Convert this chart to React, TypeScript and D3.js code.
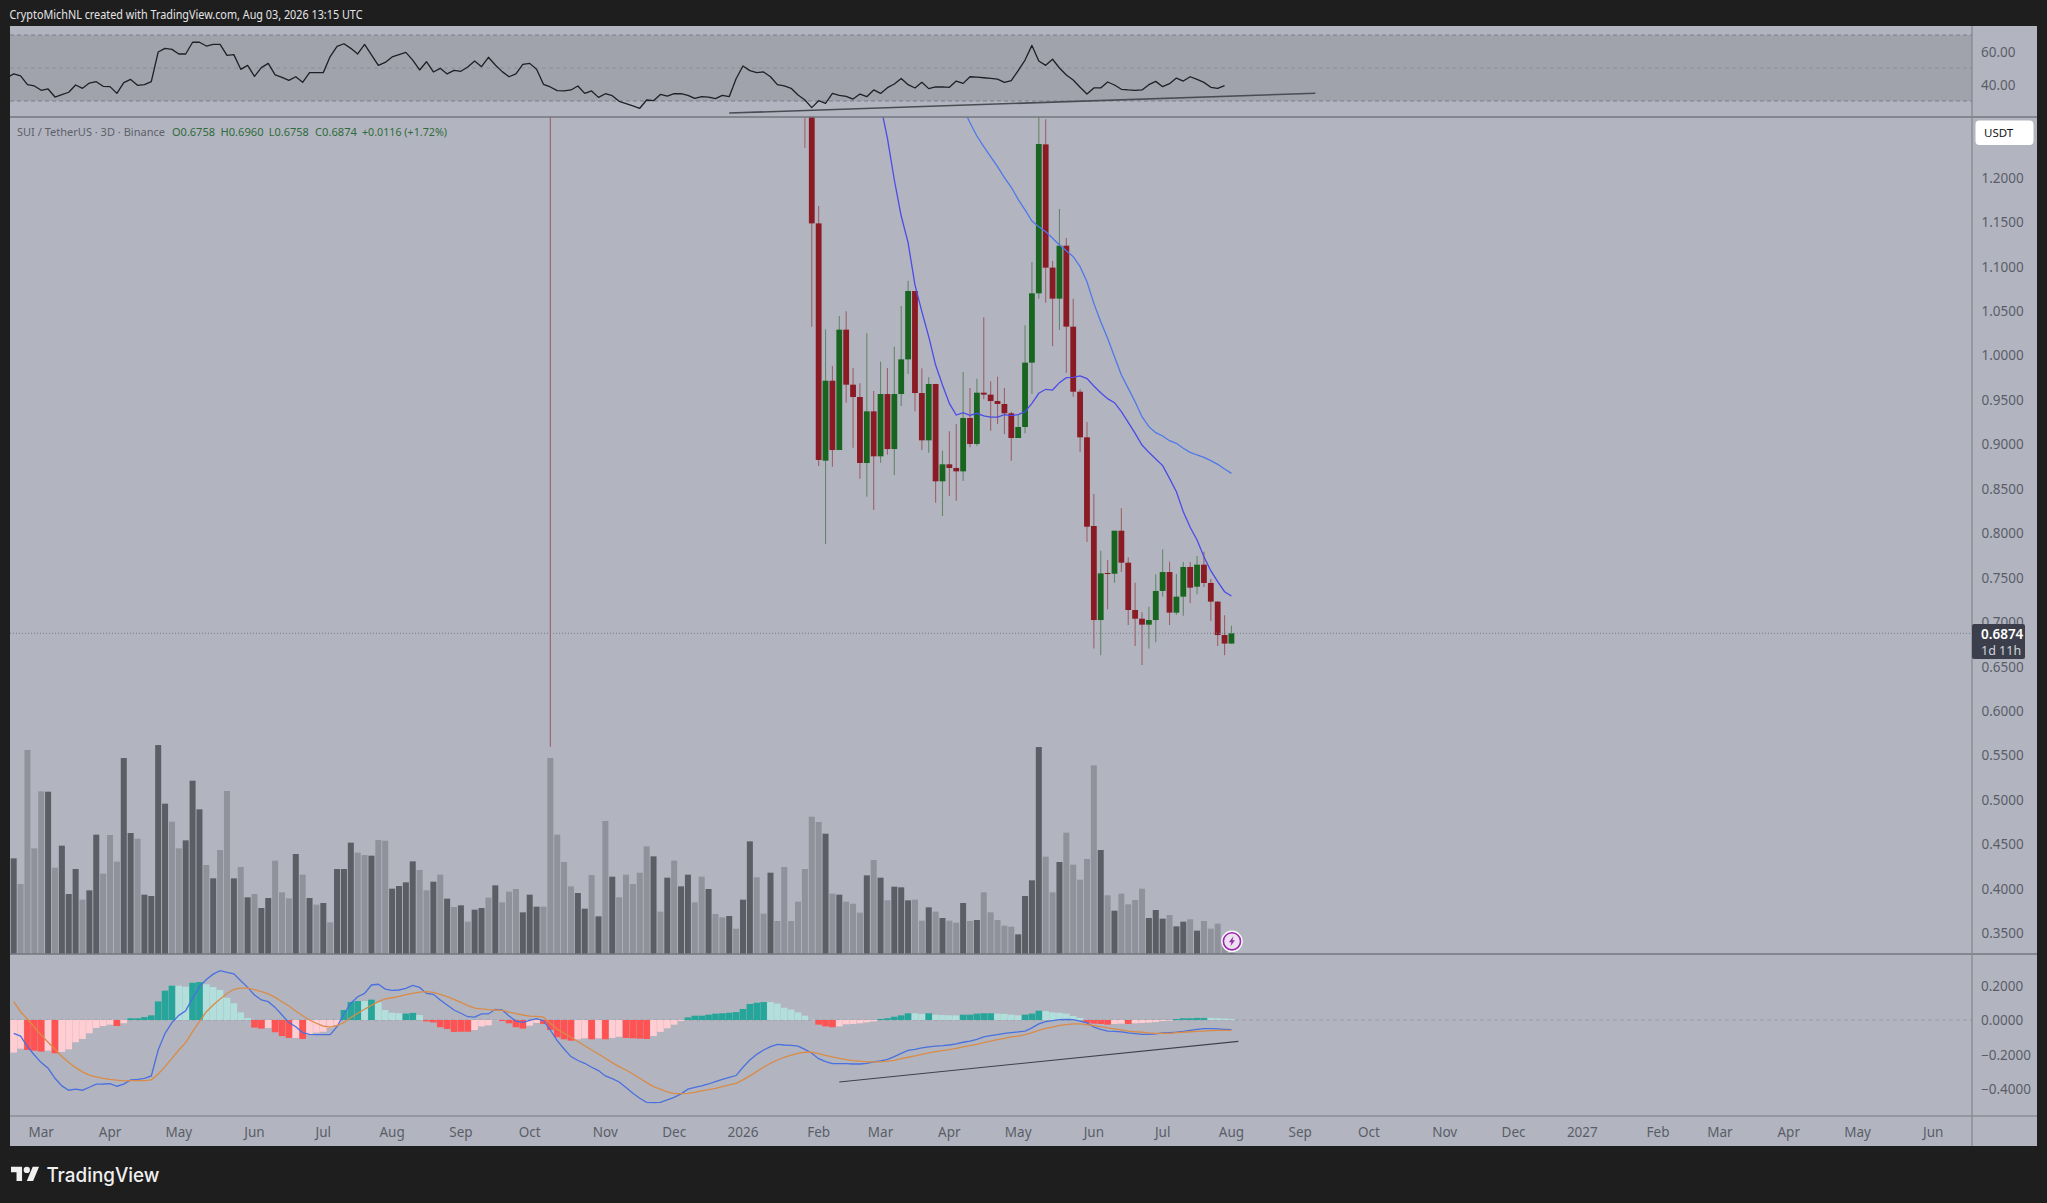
import React from "react";
import * as d3 from "d3";

const firstCandle = 115;
const opens = [1.40,1.30,1.1486,.8816,.9716,.8936,1.029,.9671,.9532,.879,.9371,.8865,.9566,.8947,.9566,.9956,1.0725,.9577,.9045,.9679,.8584,.8775,.8734,.8696,.9296,.9004,.9581,.9559,.9487,.9454,.9349,.9071,.9195,.9919,1.0699,1.2375,1.0988,1.0639,1.1235,1.0324,.9592,.9079,.8081,.7023,.7552,.7544,.8028,.7668,.7136,.7038,.6971,.7023,.735,.7563,.7106,.7286,.762,.7398,.7646,.744,.723,.6854,.6758];
const closes = [1.30,1.1486,.8824,.9716,.8936,1.029,.9671,.9532,.879,.9371,.8865,.9566,.8947,.9566,.9956,1.0725,.9577,.9045,.9679,.8584,.8775,.8734,.8696,.9296,.9004,.9581,.9559,.9487,.9454,.9349,.9071,.9195,.9919,1.0699,1.2379,1.0988,1.0639,1.1235,1.0324,.9592,.9079,.8073,.7023,.7548,.7544,.8028,.7668,.7136,.7038,.6971,.7023,.735,.7563,.7106,.7286,.762,.7387,.7646,.744,.723,.6854,.6758,.6874];
const highs = [1.45,1.34,1.1682,1.0294,.9881,1.0444,1.0496,.9859,.9686,1.0249,.96,.993,.9859,1.0099,1.0556,1.0841,1.0725,.9855,.9754,.9679,.8929,.9146,.9229,.9814,.9634,.9739,1.0429,.9709,.9761,.9634,.9367,.9326,1.0339,1.1051,1.29,1.2657,1.1066,1.1648,1.1322,1.0639,.9619,.9251,.8441,.7803,.7698,.8028,.828,.7728,.7443,.711,.7173,.7537,.7818,.768,.7541,.7676,.7676,.7743,.7792,.7485,.7237,.7076,.696];
const lows = [1.2338,1.0324,.8756,.7878,.8749,.8936,.9469,.8962,.8614,.8411,.8261,.8794,.8884,.8655,.9431,.9791,.9371,.8936,.8906,.8344,.8194,.8419,.8366,.8587,.8966,.8981,.9506,.9154,.9229,.9116,.8816,.9071,.9124,.9566,1.0639,1.0594,1.0106,1.0286,.9806,.9536,.8914,.7901,.6704,.6626,.7143,.7443,.7563,.6967,.6731,.6517,.6704,.6772,.7286,.6967,.7083,.7072,.7211,.7312,.7395,.7012,.6731,.6626,.6758];
const spikeIndex = 78;
const spikeLow = 0.5598;
const spikeHigh = 1.6;

const ma1Start = 126;
const ma1 = [1.2818,1.2443,1.1974,1.1569,1.1269,1.0793,1.0493,1.0211,.9892,.9668,.9461,.933,.9356,.9326,.9349,.9319,.9307,.9307,.9334,.9322,.9334,.9367,.9461,.9574,.9619,.9611,.9694,.975,.9754,.9769,.9739,.9656,.9581,.9514,.9469,.9367,.9247,.9124,.8992,.891,.8835,.876,.8617,.8467,.8242,.8066,.7923,.7736,.7578,.7455,.7342,.7293];
const ma2Start = 138;
const ma2 = [1.278,1.2619,1.2469,1.2349,1.2237,1.2124,1.2,1.1892,1.1757,1.1637,1.1513,1.1449,1.1393,1.1318,1.1243,1.1179,1.1111,1.0999,1.083,1.0586,1.038,1.0193,.9986,.978,.963,.948,.9311,.9199,.9131,.9094,.9041,.9011,.8955,.891,.888,.8854,.8816,.8775,.8722,.8673];

const volumes = [287,210,612,317,488,487,259,325,180,255,163,191,358,241,357,277,588,363,346,178,174,627,451,397,317,341,520,434,267,227,312,489,227,261,170,180,138,168,280,185,167,300,238,168,148,153,95,255,255,334,304,297,295,342,340,196,204,215,278,252,191,217,238,166,141,146,97,133,138,169,206,155,187,195,125,178,142,142,588,358,276,203,183,136,237,113,399,232,170,238,210,244,323,293,127,229,280,203,238,155,232,195,120,110,114,76,163,338,230,121,244,99,261,99,157,255,412,396,361,181,178,157,151,124,236,282,229,161,202,200,161,163,100,140,127,108,100,94,153,99,102,185,125,102,85,82,59,174,221,621,292,185,276,364,268,223,285,566,312,176,130,181,149,162,196,108,132,106,117,83,97,104,70,99,76,91,40,3];
const volumeKinds = "dlllldlddd"+"lddlllddld"+"dddlldddld"+"lldldlddll"+"ldldldlddd"+"lldllddddl"+"ldldldlddl"+"dllldddlll"+"llddldldll"+"llldldlddl"+"ldlldlddll"+"dllllllldl"+"dllldldldd"+"dlldldlldl"+"dllllldddd"+"lldllllldl"+"dlllldddld"+"dldlllld";

const rsiStart = -1;
const rsi = [44.1,46.4,45.2,39.9,39.1,36.5,37.3,32.4,33.8,35.3,39.7,37.7,40.9,41.7,38.9,38.7,34.6,41.1,43.1,39.5,39.9,41.7,59.7,61.9,61.3,58.5,58.5,65.6,65.6,63.3,64.3,64.3,57.7,58.1,49.2,51.6,44.9,50.2,52.8,45.8,44.3,42.5,44.7,41.3,47.2,47.2,47.2,56.9,63.1,64.7,61.9,58.5,64.3,57.9,51.6,53.4,56.7,58.1,59.5,54.8,48.8,53.8,47.6,49.8,46.4,48.6,48.0,50.6,54.2,50.8,56.5,51.8,47.8,44.7,46.4,52.2,52.8,49.2,40.1,38.5,36.3,36.1,36.7,39.1,34.6,36.1,32.2,34.4,33.2,29.8,28.4,27.0,25.6,30.6,30.2,34.0,33.0,34.4,34.4,33.4,31.6,32.6,32.4,31.4,33.4,32.6,43.5,51.2,48.4,47.2,47.6,44.7,39.9,39.1,37.7,33.6,30.6,26.0,30.2,28.6,34.6,33.4,32.8,31.2,34.2,32.6,36.7,34.6,38.1,40.3,43.7,39.9,37.9,41.3,37.5,38.5,38.5,38.3,42.1,40.7,44.7,44.5,44.1,43.7,43.3,41.3,42.3,48.4,54.8,63.7,54.2,51.6,55.3,50,45.8,42.7,38.3,34.2,37.9,37.9,41.5,39.7,37.1,36.7,36.5,36.7,39.9,41.9,38.7,40.5,43.9,42.1,44.7,43.1,41.3,38.3,37.7,39.3];
const rsiTrendIdx = [104, 189.2];
const rsiTrendVal = [22.7, 34.7];

const macd = [-.077,-.093,-.154,-.203,-.247,-.28,-.338,-.382,-.407,-.401,-.407,-.39,-.372,-.371,-.369,-.384,-.372,-.347,-.344,-.338,-.324,-.174,-.077,-.015,.027,.054,.125,.193,.235,.266,.286,.276,.268,.228,.189,.145,.116,.106,.073,.029,-.015,-.039,-.073,-.083,-.085,-.085,-.085,-.039,.035,.097,.135,.154,.203,.207,.179,.172,.174,.183,.201,.189,.154,.149,.116,.087,.058,.039,.019,.017,.035,.035,.062,.058,.023,-.006,-.014,-.002,.008,-.004,-.058,-.12,-.168,-.212,-.235,-.251,-.274,-.293,-.324,-.34,-.359,-.392,-.425,-.454,-.477,-.479,-.477,-.463,-.448,-.428,-.401,-.39,-.382,-.371,-.357,-.344,-.332,-.322,-.274,-.232,-.199,-.174,-.154,-.141,-.145,-.147,-.151,-.17,-.193,-.224,-.241,-.253,-.253,-.253,-.255,-.255,-.251,-.243,-.237,-.228,-.212,-.193,-.176,-.17,-.162,-.156,-.152,-.149,-.145,-.139,-.129,-.122,-.112,-.098,-.091,-.085,-.077,-.073,-.069,-.064,-.046,-.023,-.01,-.004,.002,.004,.002,-.006,-.017,-.042,-.054,-.064,-.066,-.069,-.075,-.079,-.083,-.083,-.081,-.075,-.073,-.071,-.066,-.06,-.054,-.05,-.05,-.052,-.054,-.056];
const signal = [.106,.048,.006,-.042,-.087,-.129,-.17,-.212,-.247,-.276,-.301,-.32,-.33,-.338,-.344,-.349,-.353,-.351,-.351,-.351,-.347,-.313,-.27,-.222,-.174,-.131,-.068,-.01,.048,.087,.122,.154,.178,.185,.185,.176,.164,.151,.131,.106,.081,.052,.025,0,-.019,-.035,-.041,-.033,-.014,.014,.039,.062,.085,.106,.122,.129,.137,.147,.154,.162,.164,.16,.149,.135,.12,.102,.083,.069,.064,.06,.058,.056,.046,.037,.029,.023,.021,.017,-.019,-.054,-.077,-.1,-.125,-.149,-.174,-.197,-.222,-.247,-.27,-.29,-.313,-.338,-.363,-.386,-.401,-.417,-.427,-.427,-.425,-.419,-.411,-.403,-.396,-.386,-.376,-.367,-.347,-.324,-.299,-.274,-.251,-.232,-.216,-.203,-.193,-.187,-.187,-.195,-.205,-.214,-.222,-.23,-.235,-.239,-.243,-.243,-.243,-.239,-.234,-.224,-.216,-.208,-.199,-.191,-.183,-.178,-.172,-.164,-.156,-.149,-.141,-.131,-.122,-.114,-.106,-.098,-.093,-.085,-.073,-.06,-.048,-.041,-.031,-.027,-.023,-.023,-.027,-.033,-.039,-.046,-.052,-.058,-.064,-.068,-.071,-.075,-.077,-.077,-.077,-.073,-.071,-.068,-.066,-.064,-.062,-.06,-.06,-.06];
const hist = [-.189,-.166,-.174,-.178,-.183,-.178,-.193,-.185,-.17,-.129,-.11,-.077,-.046,-.035,-.027,-.035,-.019,.01,.01,.017,.027,.108,.17,.199,.199,.193,.216,.22,.207,.191,.174,.129,.097,.044,.012,-.044,-.05,-.046,-.071,-.093,-.104,-.104,-.11,-.085,-.073,-.068,-.046,-.029,.058,.104,.11,.11,.118,.102,.058,.042,.039,.037,.041,.029,-.008,-.014,-.042,-.052,-.069,-.068,-.068,-.058,-.037,-.031,-.002,-.006,-.019,-.042,-.05,-.033,-.017,-.023,-.058,-.1,-.112,-.12,-.112,-.106,-.112,-.106,-.112,-.104,-.097,-.104,-.106,-.108,-.11,-.093,-.069,-.048,-.027,-.006,.015,.025,.025,.031,.037,.039,.042,.046,.064,.093,.1,.104,.104,.095,.071,.06,.044,.025,.002,-.027,-.037,-.042,-.037,-.025,-.023,-.019,-.014,-.008,.006,.01,.019,.027,.039,.039,.035,.039,.031,.029,.027,.027,.031,.031,.037,.039,.039,.037,.035,.031,.027,.031,.037,.054,.052,.044,.042,.037,.023,.012,-.017,-.021,-.023,-.027,-.023,-.021,-.023,-.019,-.017,-.015,-.012,-.006,-.004,.006,.01,.01,.012,.012,.012,.01,.008,.006];
const histKinds = "rrRRRrRrrrrrrrrRr"+"GGGGGGGggGGggggggg"+"RRrRRRrRrrrrr"+"GGGgGggggGGg"+"RRRRRRRrrrrRRRRrrRRRRRrrRrRrrRRRR"+"rrrrr"+"GGGGGGGGGGGG"+"ggggggg"+"RRR"+"rrrrrr"+"GGGGG"+"gg"+"G"+"gggg"+"GGGGG"+"gggg"+"GGG"+"gggggg"+"RRRR"+"rr"+"R"+"rrrrrr"+"GGGGG"+"gggg";
const macdTrendIdx = [120, 178];
const macdTrendVal = [-.359, -.124];

const priceTicks = [1.2,1.15,1.1,1.05,1,.95,.9,.85,.8,.75,.7,.65,.6,.55,.5,.45,.4,.35];
const rsiTicks = [60, 40];
const rsiBands = [70, 50, 30];
const macdTicks = [.2, 0, -.2, -.4];
const timeTickIndex = [4,14,24,35,45,55,65,75,86,96,106,117,126,136,146,157,167,177,187,197,208,218,228,239,248,258,268,279];
const timeTickLabels = ["Mar","Apr","May","Jun","Jul","Aug","Sep","Oct","Nov","Dec","2026","Feb","Mar","Apr","May","Jun","Jul","Aug","Sep","Oct","Nov","Dec","2027","Feb","Mar","Apr","May","Jun"];
const lastPrice = 0.6874;

const W = 2047, H = 1203;
const L = 10, AX = 1972, R = 2037, TOP = 26, RB = 117, MB = 954, MCB = 1116, BOT = 1146;
const FONT = "'Noto Sans', sans-serif";

const x = d3.scaleLinear().domain([0, 279]).range([13.7, 1933.2]);
const yP = d3.scaleLinear().domain([0.4, 1.2]).range([888.7, 177.7]);
const yR = d3.scaleLinear().domain([30, 70]).range([101, 35]);
const yV = d3.scaleLinear().domain([0, 1000]).range([MB, MB - 333.3]);
const yM = d3.scaleLinear().domain([0, 0.2]).range([1020, 985.5]);

const lineFrom = (start: number, vals: number[], y: (v: number) => number) =>
  d3.line<number>().x((_, i) => x(start + i)).y((v) => y(v))(vals) as string;

const VOL = { d: "#5c5e66", l: "#8f919b" } as Record<string, string>;
const HIST = { G: "#26a69a", g: "#b2dfdb", R: "#ff5252", r: "#ffcdd2" } as Record<string, string>;
const UP = "#17651f", DOWN = "#8a1a24", UPW = "#648769", DOWNW = "#9c6168";

export default function App() {
  const tick = { fontFamily: FONT, fontSize: 13.5, fill: "#5a5d68" };
  return (
    <svg width={W} height={H} viewBox={`0 0 ${W} ${H}`} style={{ position: "absolute", left: 0, top: 0, display: "block" }}>
      <defs>
        <clipPath id="cR"><rect x={L} y={TOP} width={AX - L} height={RB - TOP} /></clipPath>
        <clipPath id="cM"><rect x={L} y={RB} width={AX - L} height={MB - RB} /></clipPath>
        <clipPath id="cC"><rect x={L} y={MB} width={AX - L} height={MCB - MB} /></clipPath>
      </defs>
      <rect width={W} height={H} fill="#1e1e1e" />
      <rect x={L} y={TOP} width={R - L} height={BOT - TOP} fill="#b2b5bf" />
      <text x={9.5} y={18.5} fontFamily={FONT} fontSize={12} fill="#e4e4e6" textLength={353} lengthAdjust="spacingAndGlyphs">CryptoMichNL created with TradingView.com, Aug 03, 2026 13:15 UTC</text>

      {/* RSI */}
      <rect x={L} y={yR(70)} width={AX - L} height={yR(30) - yR(70)} fill="#a0a3ac" />
      {rsiBands.map((b) => (
        <line key={b} x1={L} x2={AX} y1={yR(b)} y2={yR(b)} stroke="#787b86" strokeWidth={1} strokeDasharray="4 3" opacity={b === 50 ? 0.45 : 0.9} />
      ))}
      <g clipPath="url(#cR)">
        <path d={lineFrom(rsiStart, rsi, yR)} fill="none" stroke="#1e2026" strokeWidth={1.3} strokeLinejoin="round" />
        <line x1={x(rsiTrendIdx[0])} x2={x(rsiTrendIdx[1])} y1={yR(rsiTrendVal[0])} y2={yR(rsiTrendVal[1])} stroke="#4a4c54" strokeWidth={1.6} />
      </g>

      {/* Volume and candles */}
      <g clipPath="url(#cM)">
        {volumes.map((v, i) => (
          <rect key={i} x={x(i) - 3} y={yV(v)} width={6} height={MB - yV(v)} fill={VOL[volumeKinds[i]]} />
        ))}
        <line x1={x(spikeIndex)} x2={x(spikeIndex)} y1={yP(spikeHigh)} y2={yP(spikeLow)} stroke={DOWNW} strokeWidth={1.1} />
        {opens.map((o, k) => {
          const i = firstCandle + k, c = closes[k], up = c >= o;
          const top = yP(Math.max(o, c)), bot = yP(Math.min(o, c));
          return (
            <g key={i}>
              <line x1={x(i)} x2={x(i)} y1={yP(highs[k])} y2={yP(lows[k])} stroke={up ? UPW : DOWNW} strokeWidth={1.1} />
              <rect x={x(i) - 2.9} y={top} width={5.8} height={Math.max(bot - top, 1)} fill={up ? UP : DOWN} />
            </g>
          );
        })}
        <path d={lineFrom(ma1Start, ma1, yP)} fill="none" stroke="#4b4be8" strokeWidth={1.3} />
        <path d={lineFrom(ma2Start, ma2, yP)} fill="none" stroke="#4f78ea" strokeWidth={1.3} />
      </g>
      <line x1={L} x2={AX} y1={yP(lastPrice)} y2={yP(lastPrice)} stroke="#787b86" strokeWidth={1} strokeDasharray="1 2" />

      {/* Legend */}
      <text x={17} y={136} fontFamily={FONT} fontSize={11.3} fill="#5d606b" textLength={148} lengthAdjust="spacingAndGlyphs">SUI / TetherUS · 3D · Binance</text>
      {[["O0.6758", 172, 43], ["H0.6960", 220.5, 43], ["L0.6758", 268.8, 40], ["C0.6874", 315, 42], ["+0.0116 (+1.72%)", 362, 85]].map(([t, px, w]) => (
        <text key={t as string} x={px as number} y={136} fontFamily={FONT} fontSize={11.3} fill="#2f6b3c" textLength={w as number} lengthAdjust="spacingAndGlyphs">{t}</text>
      ))}

      {/* MACD */}
      <line x1={L} x2={AX} y1={yM(0)} y2={yM(0)} stroke="#9a9da6" strokeWidth={1} strokeDasharray="4 3" />
      <g clipPath="url(#cC)">
        {hist.map((h, i) => {
          const y0 = yM(0), y1 = yM(h);
          return <rect key={i} x={x(i) - 3.3} width={6.6} y={Math.min(y0, y1)} height={Math.abs(y1 - y0)} fill={HIST[histKinds[i]]} />;
        })}
        <path d={lineFrom(0, macd, yM)} fill="none" stroke="#4a70df" strokeWidth={1.3} />
        <path d={lineFrom(0, signal, yM)} fill="none" stroke="#d98b47" strokeWidth={1.3} />
        <line x1={x(macdTrendIdx[0])} x2={x(macdTrendIdx[1])} y1={yM(macdTrendVal[0])} y2={yM(macdTrendVal[1])} stroke="#3f414a" strokeWidth={1.1} />
      </g>

      {/* Lightning badge */}
      <g transform={`translate(${x(177) + 0.5},941.3)`}>
        <circle r={10} fill="#f3e5f5" stroke="#ffffff" strokeWidth={1.5} />
        <circle r={8.6} fill="#ece2ef" stroke="#9c27b0" strokeWidth={1.6} />
        <path d="M1.5 -5 L-3 1 L-0.5 1 L-1.5 5 L3 -1 L0.5 -1 Z" fill="#9c27b0" />
      </g>

      {/* Panel dividers */}
      <line x1={L} x2={R} y1={RB} y2={RB} stroke="#74777f" strokeWidth={1.4} />
      <line x1={L} x2={R} y1={MB} y2={MB} stroke="#74777f" strokeWidth={1.4} />
      <line x1={L} x2={R} y1={MCB} y2={MCB} stroke="#787b84" strokeWidth={1.2} />
      <line x1={AX} x2={AX} y1={TOP} y2={BOT} stroke="#868992" strokeWidth={1.3} />

      {/* Axes */}
      {rsiTicks.map((t) => <text key={t} x={1981} y={yR(t) + 5} {...tick}>{t.toFixed(2)}</text>)}
      {priceTicks.map((t) => <text key={t} x={1981.5} y={yP(t) + 5} {...tick}>{t.toFixed(4)}</text>)}
      {macdTicks.map((t) => <text key={t} x={1981} y={yM(t) + 5} {...tick}>{t < 0 ? "\u2212" + Math.abs(t).toFixed(4) : t.toFixed(4)}</text>)}
      {timeTickIndex.map((t, i) => (
        <text key={i} x={x(t)} y={1136.5} textAnchor="middle" {...tick}>{timeTickLabels[i]}</text>
      ))}

      <rect x={1975.5} y={120.5} width={58} height={24.5} rx={4} fill="#ffffff" />
      <text x={1984} y={137} fontFamily={FONT} fontSize={11.5} fill="#131722">USDT</text>

      <rect x={1972} y={624} width={53} height={35} rx={2} fill="#3c3f4b" />
      <text x={1981} y={639} fontFamily={FONT} fontSize={13.5} fontWeight={600} fill="#ffffff">0.6874</text>
      <text x={1981} y={655} fontFamily={FONT} fontSize={12.5} fill="#d1d4dc">1d 11h</text>

      {/* Footer logo */}
      <g transform="translate(11,1163.6) scale(0.79)" fill="#f0f0f0">
        <path d="M14 22H7V11H0V4h14v18zM28 22h-8l7.5-18h8L28 22z" />
        <circle cx="20" cy="8" r="4" />
      </g>
      <text x={46.4} y={1181.5} fontFamily="Inter, 'Noto Sans', sans-serif" fontSize={19.5} fontWeight={500} fill="#f0f0f0" textLength={113} lengthAdjust="spacingAndGlyphs">TradingView</text>
    </svg>
  );
}
